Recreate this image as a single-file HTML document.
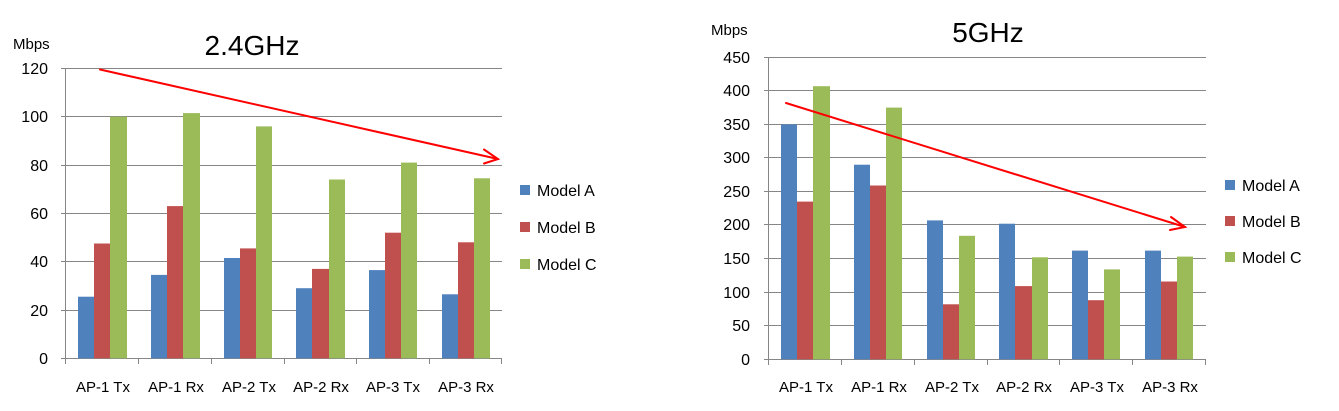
<!DOCTYPE html>
<html><head><meta charset="utf-8"><style>
html,body{margin:0;padding:0;background:#fff;}
svg{display:block;font-family:"Liberation Sans",sans-serif;}
</style></head><body>
<svg width="1339" height="411" xmlns="http://www.w3.org/2000/svg">
<!-- Chart 1 -->
<g stroke="#868686" stroke-width="1">
<line x1="61" y1="68.5" x2="502" y2="68.5"/>
<line x1="61" y1="116.5" x2="502" y2="116.5"/>
<line x1="61" y1="165.5" x2="502" y2="165.5"/>
<line x1="61" y1="213.5" x2="502" y2="213.5"/>
<line x1="61" y1="261.5" x2="502" y2="261.5"/>
<line x1="61" y1="310.5" x2="502" y2="310.5"/>
<line x1="61" y1="358.5" x2="502" y2="358.5"/>
<line x1="65.5" y1="68" x2="65.5" y2="364"/>
<line x1="138.5" y1="358" x2="138.5" y2="364"/>
<line x1="211.5" y1="358" x2="211.5" y2="364"/>
<line x1="284.5" y1="358" x2="284.5" y2="364"/>
<line x1="356.5" y1="358" x2="356.5" y2="364"/>
<line x1="429.5" y1="358" x2="429.5" y2="364"/>
<line x1="501.5" y1="358" x2="501.5" y2="364"/>
</g>
<g font-size="16" fill="#000" text-anchor="end">
<text x="48" y="74">120</text><text x="48" y="122">100</text><text x="48" y="171">80</text><text x="48" y="219">60</text><text x="48" y="267">40</text><text x="48" y="316">20</text><text x="48" y="364">0</text>
</g>
<text x="13" y="49" font-size="15">Mbps</text>
<text x="252" y="55" font-size="28" text-anchor="middle">2.4GHz</text>
<g font-size="15" text-anchor="middle">
<text x="103" y="392">AP-1 Tx</text><text x="176" y="392">AP-1 Rx</text><text x="249" y="392">AP-2 Tx</text><text x="321" y="392">AP-2 Rx</text><text x="393" y="392">AP-3 Tx</text><text x="466" y="392">AP-3 Rx</text>
</g>
<!-- Chart 2 -->
<g stroke="#868686" stroke-width="1">
<line x1="764" y1="57.5" x2="1206" y2="57.5"/>
<line x1="764" y1="90.5" x2="1206" y2="90.5"/>
<line x1="764" y1="124.5" x2="1206" y2="124.5"/>
<line x1="764" y1="157.5" x2="1206" y2="157.5"/>
<line x1="764" y1="191.5" x2="1206" y2="191.5"/>
<line x1="764" y1="224.5" x2="1206" y2="224.5"/>
<line x1="764" y1="258.5" x2="1206" y2="258.5"/>
<line x1="764" y1="292.5" x2="1206" y2="292.5"/>
<line x1="764" y1="325.5" x2="1206" y2="325.5"/>
<line x1="764" y1="359.5" x2="1206" y2="359.5"/>
<line x1="768.5" y1="57" x2="768.5" y2="365"/>
<line x1="841.5" y1="359" x2="841.5" y2="365"/>
<line x1="914.5" y1="359" x2="914.5" y2="365"/>
<line x1="987.5" y1="359" x2="987.5" y2="365"/>
<line x1="1059.5" y1="359" x2="1059.5" y2="365"/>
<line x1="1132.5" y1="359" x2="1132.5" y2="365"/>
<line x1="1205.5" y1="359" x2="1205.5" y2="365"/>
</g>
<g font-size="16" fill="#000" text-anchor="end">
<text x="750" y="63">450</text><text x="750" y="96">400</text><text x="750" y="130">350</text><text x="750" y="163">300</text><text x="750" y="197">250</text><text x="750" y="230">200</text><text x="750" y="264">150</text><text x="750" y="298">100</text><text x="750" y="331">50</text><text x="750" y="365">0</text>
</g>
<text x="711" y="35" font-size="15">Mbps</text>
<text x="988" y="42" font-size="28" text-anchor="middle">5GHz</text>
<g font-size="15" text-anchor="middle">
<text x="806" y="392">AP-1 Tx</text><text x="879" y="392">AP-1 Rx</text><text x="952" y="392">AP-2 Tx</text><text x="1024" y="392">AP-2 Rx</text><text x="1097" y="392">AP-3 Tx</text><text x="1170" y="392">AP-3 Rx</text>
</g>
<!-- Legends -->
<g font-size="16">
<rect x="520" y="185" width="10" height="10" fill="#4f81bd"/><text x="537" y="196">Model A</text>
<rect x="520" y="222" width="10" height="10" fill="#c0504d"/><text x="537" y="233">Model B</text>
<rect x="520" y="259" width="10" height="10" fill="#9bbb59"/><text x="537" y="270">Model C</text>
<rect x="1225" y="180" width="10" height="10" fill="#4f81bd"/><text x="1242" y="191">Model A</text>
<rect x="1225" y="216" width="10" height="10" fill="#c0504d"/><text x="1242" y="227">Model B</text>
<rect x="1225" y="252" width="10" height="10" fill="#9bbb59"/><text x="1242" y="263">Model C</text>
</g>
<!-- Bars chart1 -->
<g>
<rect x="78" y="296.7" width="16" height="61.6" fill="#4f81bd"/><rect x="94" y="243.5" width="16" height="114.8" fill="#c0504d"/><rect x="110" y="116.7" width="17" height="241.6" fill="#9bbb59"/>
<rect x="151" y="274.9" width="16" height="83.4" fill="#4f81bd"/><rect x="167" y="206.1" width="16" height="152.2" fill="#c0504d"/><rect x="183" y="113.1" width="17" height="245.2" fill="#9bbb59"/>
<rect x="224" y="258.0" width="16" height="100.3" fill="#4f81bd"/><rect x="240" y="248.4" width="16" height="109.9" fill="#c0504d"/><rect x="256" y="126.4" width="16" height="231.9" fill="#9bbb59"/>
<rect x="296" y="288.2" width="16" height="70.1" fill="#4f81bd"/><rect x="312" y="268.9" width="17" height="89.4" fill="#c0504d"/><rect x="329" y="179.5" width="16" height="178.8" fill="#9bbb59"/>
<rect x="369" y="270.1" width="16" height="88.2" fill="#4f81bd"/><rect x="385" y="232.7" width="16" height="125.6" fill="#c0504d"/><rect x="401" y="162.6" width="16" height="195.7" fill="#9bbb59"/>
<rect x="442" y="294.3" width="16" height="64" fill="#4f81bd"/><rect x="458" y="242.3" width="16" height="116" fill="#c0504d"/><rect x="474" y="178.3" width="16" height="180" fill="#9bbb59"/>
</g>
<!-- Bars chart2 -->
<g>
<rect x="781" y="124.4" width="16" height="234.9" fill="#4f81bd"/><rect x="797" y="201.6" width="16" height="157.7" fill="#c0504d"/><rect x="813" y="86.2" width="17" height="273.1" fill="#9bbb59"/>
<rect x="854" y="164.7" width="16" height="194.6" fill="#4f81bd"/><rect x="870" y="185.5" width="16" height="173.8" fill="#c0504d"/><rect x="886" y="107.6" width="16" height="251.7" fill="#9bbb59"/>
<rect x="927" y="220.4" width="16" height="138.9" fill="#4f81bd"/><rect x="943" y="304.3" width="16" height="55" fill="#c0504d"/><rect x="959" y="235.8" width="16" height="123.5" fill="#9bbb59"/>
<rect x="999" y="223.7" width="16" height="135.6" fill="#4f81bd"/><rect x="1015" y="286.1" width="17" height="73.2" fill="#c0504d"/><rect x="1032" y="257.3" width="16" height="102" fill="#9bbb59"/>
<rect x="1072" y="250.6" width="16" height="108.7" fill="#4f81bd"/><rect x="1088" y="300.2" width="16" height="59.1" fill="#c0504d"/><rect x="1104" y="269.4" width="16" height="89.9" fill="#9bbb59"/>
<rect x="1145" y="250.6" width="16" height="108.7" fill="#4f81bd"/><rect x="1161" y="281.5" width="16" height="77.8" fill="#c0504d"/><rect x="1177" y="256.6" width="16" height="102.7" fill="#9bbb59"/>
</g>
<!-- Arrows -->
<g stroke="#ff0000" stroke-width="2" fill="none" stroke-linecap="round">
<line x1="100" y1="69.5" x2="498" y2="159"/>
<polyline points="484,149.5 498,159 484,163.5"/>
<line x1="786" y1="103" x2="1185" y2="227"/>
<polyline points="1171,217 1185,227 1170,230"/>
</g>
</svg>
</body></html>
